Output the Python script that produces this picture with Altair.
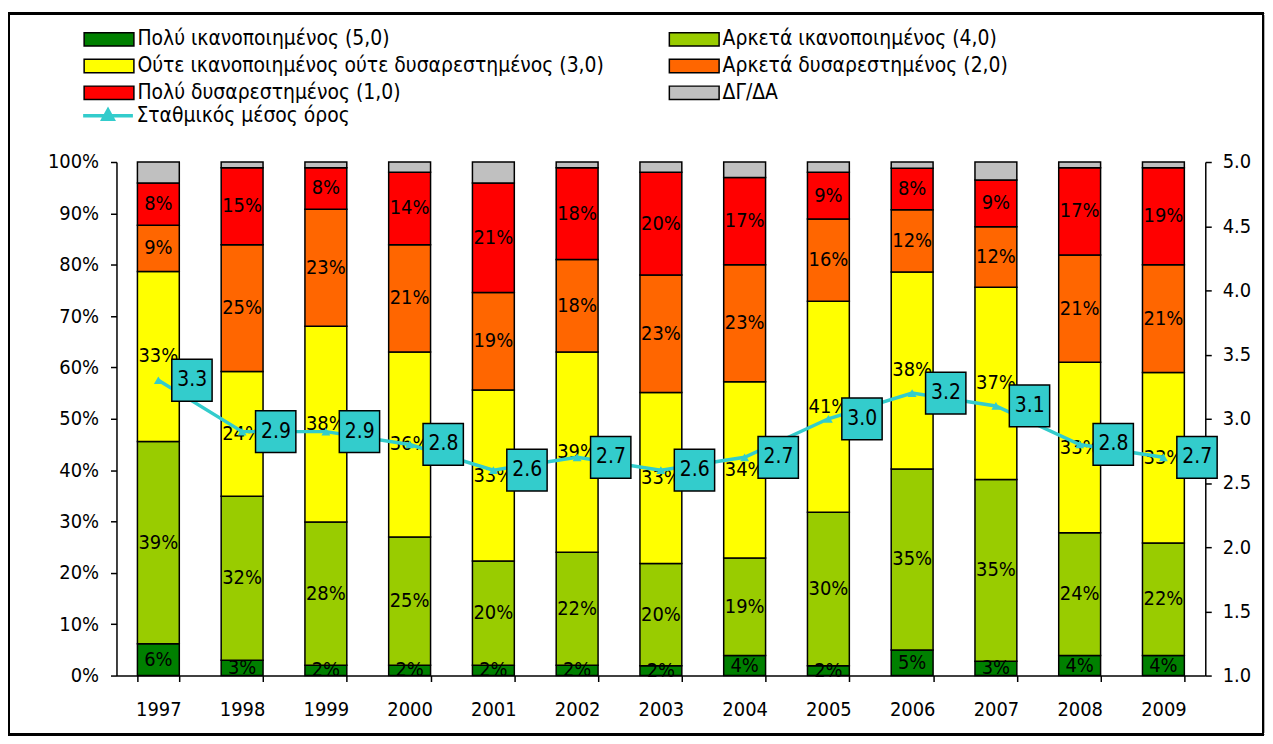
import altair as alt
import pandas as pd

years = ["1997", "1998", "1999", "2000", "2001", "2002", "2003",
         "2004", "2005", "2006", "2007", "2008", "2009"]

cat_names = [
    "Πολύ ικανοποιημένος (5,0)",
    "Αρκετά ικανοποιημένος (4,0)",
    "Ούτε ικανοποιημένος ούτε δυσαρεστημένος (3,0)",
    "Αρκετά δυσαρεστημένος (2,0)",
    "Πολύ δυσαρεστημένος (1,0)",
    "ΔΓ/ΔΑ",
]
cat_colors = ["#008000", "#99CC00", "#FFFF00", "#FF6600", "#FF0000", "#C0C0C0"]
# legend is filled column by column: left column 5,3,1 ; right column 4,2,ΔΓ/ΔΑ
legend_order = [0, 2, 4, 1, 3, 5]

very_sat = [6.2, 3.0, 2.0, 2.0, 2.0, 2.0, 1.9, 3.9, 1.9, 5.0, 2.8, 3.9, 3.9]
fairly_sat = [39.4, 31.9, 27.9, 25.0, 20.3, 22.0, 19.9, 19.0, 29.9, 35.2, 35.4, 23.9, 21.9]
neutral = [33.1, 24.3, 38.1, 36.0, 33.3, 39.0, 33.3, 34.3, 41.1, 38.4, 37.4, 33.2, 33.2]
fairly_dis = [9.0, 24.7, 22.8, 20.9, 19.0, 18.0, 22.9, 22.8, 16.0, 12.1, 11.8, 20.9, 21.0]
very_dis = [8.2, 15.0, 8.1, 14.1, 21.3, 17.9, 20.0, 17.0, 9.1, 8.1, 9.1, 17.0, 18.9]
dont_know = [4.1, 1.1, 1.1, 2.0, 4.1, 1.1, 2.0, 3.0, 2.0, 1.2, 3.5, 1.1, 1.1]

mean_score = [3.3, 2.9, 2.9, 2.8, 2.6, 2.7, 2.6, 2.7, 3.0, 3.2, 3.1, 2.8, 2.7]
mean_name = "Σταθμικός μέσος όρος"

FONT = "DejaVu Sans Condensed, DejaVu Sans"
FS = 20
LFS = 21
TEAL = "#33CCCC"

series = [very_sat, fairly_sat, neutral, fairly_dis, very_dis, dont_know]
rows = []
for ci, (name, vals) in enumerate(zip(cat_names, series)):
    for y, v in zip(years, vals):
        rows.append({"year": y, "cat": name, "idx": ci, "val": v})
df = pd.DataFrame(rows)

dfl = pd.DataFrame({"year": years, "mean": mean_score, "s": [mean_name] * len(years)})

xenc = alt.X("year:N", sort=years,
             scale=alt.Scale(paddingInner=0.5, paddingOuter=0.25),
             axis=alt.Axis(title=None, labelAngle=0, tickBand="extent",
                           labelPadding=18))

base = alt.Chart(df).transform_stack(
    stack="val", groupby=["year"], as_=["y0", "y1"],
    sort=[alt.SortField("idx", order="ascending")]
).transform_calculate(
    mid="(datum.y0 + datum.y1) / 2",
    lab="format(datum.val, '.0f') + '%'"
)

yscale = alt.Scale(domain=[0, 100], nice=False, zero=True)

leg_domain = [cat_names[i] for i in legend_order]
leg_range = [cat_colors[i] for i in legend_order]

bars = base.mark_bar(stroke="black", strokeWidth=1.5).encode(
    x=xenc,
    y=alt.Y("y0:Q", scale=yscale,
            axis=alt.Axis(title=None, values=list(range(0, 101, 10)),
                          labelExpr="datum.value + '%'", labelPadding=12)),
    y2="y1:Q",
    color=alt.Color("cat:N",
                    scale=alt.Scale(domain=leg_domain, range=leg_range),
                    legend=alt.Legend(
                        title=None, orient="none", legendX=-36, legendY=-134,
                        columns=2, columnPadding=62, rowPadding=5,
                        symbolType="M-1,-0.964H6.143V0.964H-1Z", symbolSize=196,
                        symbolStrokeColor="black", symbolStrokeWidth=1.5,
                        labelFont=FONT, labelFontSize=LFS, labelColor="black",
                        labelOffset=36, labelLimit=0, padding=0)),
)

texts = base.transform_filter("datum.idx < 5").mark_text(
    font=FONT, fontSize=FS, color="black", baseline="middle"
).encode(
    x=alt.X("year:N", sort=years),
    y=alt.Y("mid:Q", scale=yscale),
    text="lab:N",
)

frame = alt.Chart(df).mark_rect(filled=False, stroke="black", strokeWidth=2).encode(
    x=alt.value(-108), x2=alt.value(1152), y=alt.value(-149), y2=alt.value(575)
)

left = alt.layer(frame, bars, texts)

y2scale = alt.Scale(domain=[1, 5], nice=False, zero=False)
lbase = alt.Chart(dfl).transform_calculate(lab="format(datum.mean, '.1f')")

line = lbase.mark_line(strokeWidth=3.5).encode(
    x=alt.X("year:N", sort=years),
    y=alt.Y("mean:Q", scale=y2scale,
            axis=alt.Axis(title=None, orient="right", format=".1f",
                          values=[1.0, 1.5, 2.0, 2.5, 3.0, 3.5, 4.0, 4.5, 5.0],
                          labelPadding=11)),
    stroke=alt.Stroke("s:N", scale=alt.Scale(domain=[mean_name], range=[TEAL]),
                      legend=alt.Legend(
                          title=None, orient="none", legendX=-37, legendY=-57,
                          symbolType="M-1,0H6.143M1.85,0.5L2.571,-0.8L3.29,0.5Z",
                          symbolSize=196, symbolStrokeWidth=3.5,
                          symbolFillColor=TEAL,
                          labelFont=FONT, labelFontSize=LFS, labelColor="black",
                          labelOffset=36, labelLimit=0, padding=0)),
)

pts = lbase.mark_point(shape="triangle-up", filled=True, size=80, color=TEAL, opacity=1).encode(
    x=alt.X("year:N", sort=years),
    y=alt.Y("mean:Q", scale=y2scale),
)

boxes = lbase.mark_point(
    shape="M0.675,-1.05H2.7V1.05H0.675Z", filled=True, size=1600,
    fill=TEAL, stroke="black", strokeWidth=1.5, opacity=1
).encode(
    x=alt.X("year:N", sort=years),
    y=alt.Y("mean:Q", scale=y2scale),
)

boxtext = lbase.mark_text(font=FONT, fontSize=21, color="black", dx=34, baseline="middle").encode(
    x=alt.X("year:N", sort=years),
    y=alt.Y("mean:Q", scale=y2scale),
    text="lab:N",
)

right = alt.layer(line, pts, boxes, boxtext)

chart = alt.layer(left, right).resolve_scale(
    y="independent", color="independent", stroke="independent"
).properties(
    width=1094, height=516,
    padding={"left": 109, "top": 153, "right": 60, "bottom": 62},
    autosize=alt.AutoSizeParams(type="none"),
).configure_view(stroke=None).configure_axis(
    domainColor="black", domainWidth=1.5, tickColor="black", tickWidth=1.5,
    tickSize=6, labelFont=FONT, labelFontSize=FS, labelColor="black", grid=False
)

chart.save("out.html", embed_options={"renderer": "svg", "actions": False})
